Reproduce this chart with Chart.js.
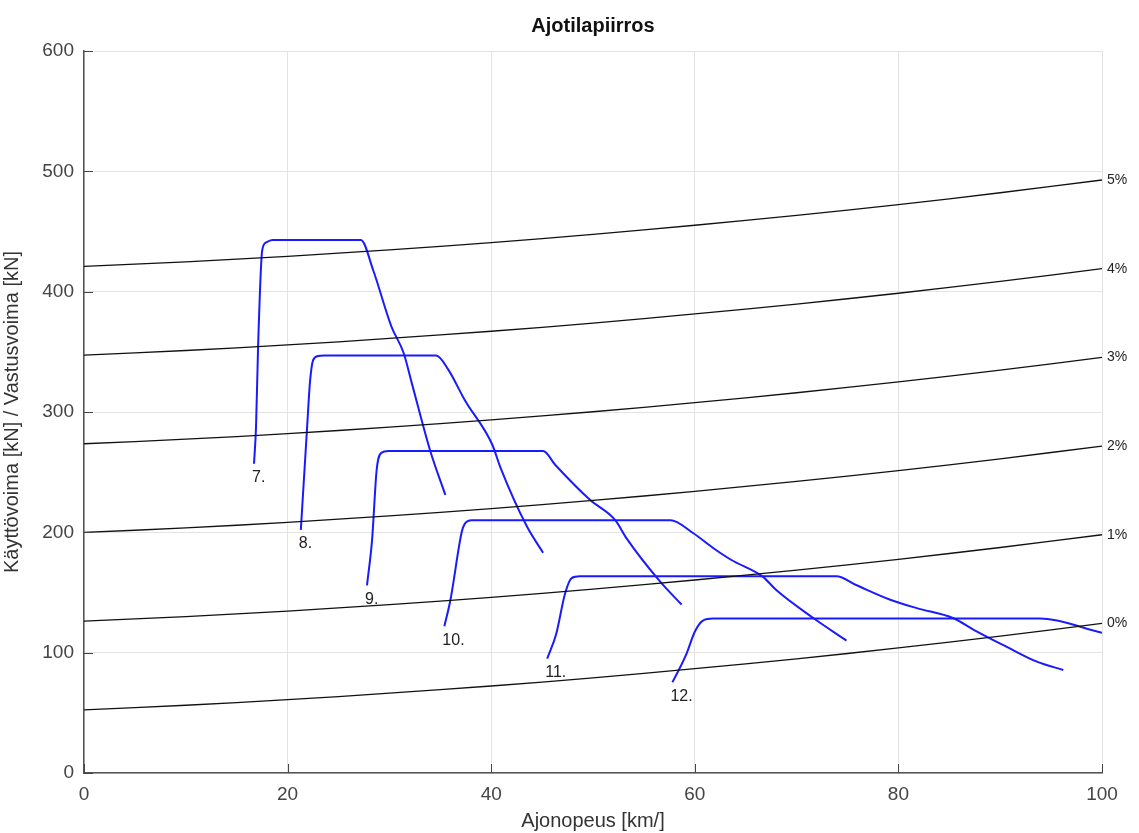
<!DOCTYPE html>
<html>
<head>
<meta charset="utf-8">
<script src="https://cdn.jsdelivr.net/npm/chart.js@4/dist/chart.umd.min.js"></script>
<style>
  html, body { margin: 0; padding: 0; background: #fff; }
  #wrap { width: 1139px; height: 833px; }
</style>
</head>
<body>
<div id="wrap"><canvas id="c" width="1139" height="833"></canvas></div>
<script>
// ---- Data ----
const xTicks = [0, 20, 40, 60, 80, 100];
const yTicks = [0, 100, 200, 300, 400, 500, 600];

// Running resistance curves per gradient (speed km/h -> force kN)
const gradeSpeeds = [0, 10, 20, 30, 40, 50, 60, 70, 80, 90, 100];
const gradeLabels = ['0%', '1%', '2%', '3%', '4%', '5%'];
const grade0 = [52.5, 56.3, 60.9, 66.3, 72.3, 79.1, 86.7, 94.9, 103.9, 113.7, 124.3];
const grade1 = [126.2, 130.0, 134.6, 140.0, 146.0, 152.8, 160.4, 168.6, 177.6, 187.4, 198.0];
const grade2 = [199.9, 203.7, 208.3, 213.7, 219.7, 226.5, 234.1, 242.3, 251.3, 261.1, 271.7];
const grade3 = [273.6, 277.4, 282.0, 287.4, 293.4, 300.2, 307.8, 316.0, 325.0, 334.8, 345.4];
const grade4 = [347.3, 351.1, 355.7, 361.1, 367.1, 373.9, 381.5, 389.7, 398.7, 408.5, 419.1];
const grade5 = [421.0, 424.8, 429.4, 434.8, 440.8, 447.6, 455.2, 463.4, 472.4, 482.2, 492.8];

// Tractive effort curves per notch
const notchLabels = ['7.', '8.', '9.', '10.', '11.', '12.'];
const notch7Speed = [16.7, 16.9, 17.1, 17.5, 17.9, 18.5, 27.2, 28.4, 30.2, 31.4, 32.2, 34.0, 35.5];
const notch7Force = [257, 288, 354, 434, 441, 443, 443, 418, 371, 349, 324, 268, 231];
const notch8Speed = [21.3, 21.9, 22.2, 22.5, 23.0, 23.6, 34.6, 35.8, 37.4, 40.1, 40.9, 43.5, 45.1];
const notch8Force = [202, 285, 325, 343, 346.5, 347, 347, 335, 310, 273, 254, 205, 183];
const notch9Speed = [27.8, 28.3, 28.75, 29.2, 29.9, 45.1, 46.3, 49.7, 52.2, 53.3, 56.6, 58.7];
const notch9Force = [156, 194, 252, 266, 267.5, 267.5, 256, 227, 210, 195, 159, 140];
const notch10Speed = [35.4, 36.0, 37.1, 37.4, 38.1, 57.6, 59.9, 61.8, 63.6, 66.7, 68.0, 71.6, 74.9];
const notch10Force = [122, 144, 200, 207, 210, 210, 199, 187, 177, 163, 152, 129, 110];
const notch11Speed = [45.5, 46.4, 47.25, 47.9, 48.7, 73.9, 75.9, 79.2, 81.8, 85.4, 87.4, 90.6, 93.6, 96.2];
const notch11Force = [95, 116, 149, 162, 163.5, 163.5, 156, 144, 137, 128.6, 119, 105, 92.5, 85.6];
const notch12Speed = [57.8, 58.5, 59.2, 60.0, 60.8, 61.8, 93.9, 100];
const notch12Force = [75.4, 86.8, 99.5, 117.4, 126.6, 128.3, 128.3, 116.5];

// ---- Build datasets ----
function pairs(xs, ys) { return xs.map((x, i) => ({ x: x, y: ys[i] })); }

const gradeSeries = [grade0, grade1, grade2, grade3, grade4, grade5];
const notchSeries = [
  [notch7Speed, notch7Force], [notch8Speed, notch8Force], [notch9Speed, notch9Force],
  [notch10Speed, notch10Force], [notch11Speed, notch11Force], [notch12Speed, notch12Force]
];

const datasets = [];
gradeSeries.forEach((ys, i) => {
  datasets.push({
    label: 'Vastus ' + gradeLabels[i],
    kind: 'grade',
    tag: gradeLabels[i],
    data: pairs(gradeSpeeds, ys),
    borderColor: '#111111',
    borderWidth: 1.3,
    pointRadius: 0,
    showLine: true,
    tension: 0.35,
    fill: false
  });
});
notchSeries.forEach((s, i) => {
  datasets.push({
    label: 'Käyttövoima ' + notchLabels[i],
    kind: 'notch',
    tag: notchLabels[i],
    data: pairs(s[0], s[1]),
    borderColor: '#1a1aff',
    borderWidth: 2,
    pointRadius: 0,
    showLine: true,
    cubicInterpolationMode: 'monotone',
    fill: false
  });
});

const FONT = "'Liberation Sans', Arial, Helvetica, sans-serif";

// Inward tick marks (Octave style) + curve labels
const decorations = {
  id: 'decorations',
  afterDatasetsDraw(chart) {
    const { ctx, chartArea: a, scales: { x, y } } = chart;
    ctx.save();
    ctx.strokeStyle = '#444';
    ctx.lineWidth = 1;
    ctx.beginPath();
    xTicks.forEach(v => {
      const px = Math.round(x.getPixelForValue(v)) + 0.5;
      ctx.moveTo(px, a.bottom);
      ctx.lineTo(px, a.bottom - 9);
    });
    yTicks.forEach(v => {
      const py = Math.round(y.getPixelForValue(v)) + 0.5;
      ctx.moveTo(a.left, py);
      ctx.lineTo(a.left + 9, py);
    });
    ctx.stroke();

    chart.data.datasets.forEach(ds => {
      if (ds.kind === 'grade') {
        const last = ds.data[ds.data.length - 1];
        ctx.fillStyle = '#222';
        ctx.font = '14px ' + FONT;
        ctx.textAlign = 'left';
        ctx.textBaseline = 'middle';
        ctx.fillText(ds.tag, x.getPixelForValue(last.x) + 5, y.getPixelForValue(last.y));
      } else {
        const first = ds.data[0];
        ctx.fillStyle = '#222';
        ctx.font = '16px ' + FONT;
        ctx.textAlign = 'left';
        ctx.textBaseline = 'middle';
        ctx.fillText(ds.tag, x.getPixelForValue(first.x) - 2, y.getPixelForValue(first.y) + 14);
      }
    });
    ctx.restore();
  }
};

new Chart(document.getElementById('c'), {
  type: 'scatter',
  data: { datasets: datasets },
  plugins: [decorations],
  options: {
    responsive: false,
    animation: false,
    layout: { padding: { left: 0, right: 37, top: 0, bottom: 0 } },
    plugins: {
      legend: { display: false },
      tooltip: { enabled: false },
      title: {
        display: true,
        fullSize: false,
        text: 'Ajotilapiirros',
        color: '#111',
        font: { family: FONT, size: 20, weight: 'bold' },
        padding: { top: 14, bottom: 13 }
      }
    },
    scales: {
      x: {
        type: 'linear',
        min: 0, max: 100,
        afterBuildTicks(scale) { scale.ticks = xTicks.map(v => ({ value: v })); },
        afterFit(scale) { scale.height = 60; },
        grid: { color: '#e3e3e3', drawTicks: false, lineWidth: 1 },
        border: { display: true, color: '#555', width: 1.5 },
        ticks: { color: '#444', font: { family: FONT, size: 19 }, padding: 10, maxRotation: 0 },
        title: {
          display: true, text: 'Ajonopeus [km/]', color: '#333',
          font: { family: FONT, size: 20 }, padding: { top: 0, bottom: 0 }
        }
      },
      y: {
        type: 'linear',
        min: 0, max: 600,
        afterBuildTicks(scale) { scale.ticks = yTicks.map(v => ({ value: v })); },
        afterFit(scale) { scale.width = 84; },
        grid: { color: '#e3e3e3', drawTicks: false, lineWidth: 1 },
        border: { display: true, color: '#555', width: 1.5 },
        ticks: { color: '#444', font: { family: FONT, size: 19 }, padding: 10 },
        title: {
          display: true, text: 'Käyttövoima [kN] / Vastusvoima [kN]', color: '#333',
          font: { family: FONT, size: 20 }, padding: { top: 0, bottom: 0 }
        }
      }
    }
  }
});
</script>
</body>
</html>
